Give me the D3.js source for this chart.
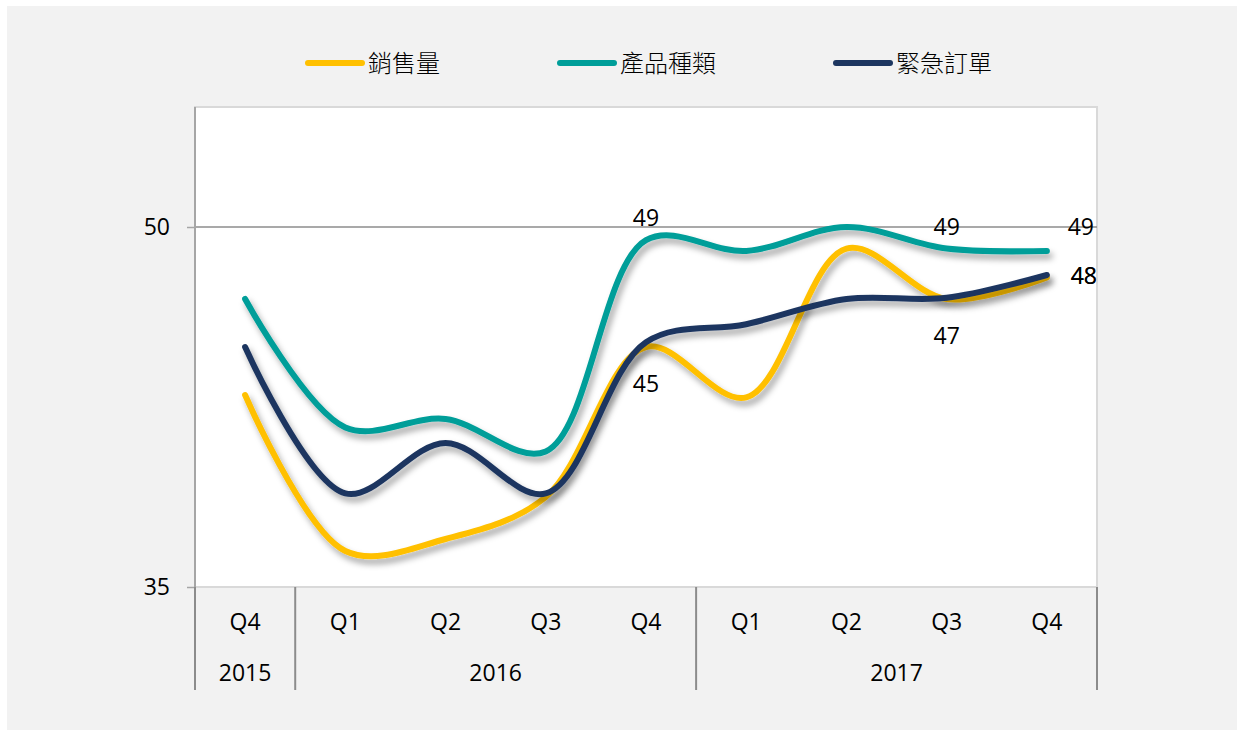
<!DOCTYPE html>
<html lang="zh-Hant">
	<head>
		<meta charset="utf-8">
		<title>D3: 季度趨勢</title>
		<script type="text/javascript" src="https://cdn.jsdelivr.net/npm/d3@7"></script>
		<style>
			body { margin: 0; background: #fff; }
			text { font-family: "Open Sans", "Noto Sans", sans-serif; }
		</style>
	</head>
	<body>
		<script type="text/javascript">
			// Width and height
			var w = 1244;
			var h = 730;

			// Data
			var quarters = ["Q4", "Q1", "Q2", "Q3", "Q4", "Q1", "Q2", "Q3", "Q4"];
			var years = [
				{ label: "2015", from: 0, to: 0 },
				{ label: "2016", from: 1, to: 4 },
				{ label: "2017", from: 5, to: 8 }
			];
			var seriesNames = ["銷售量", "產品種類", "緊急訂單"];
			var sales    = [43.0, 36.5, 37.0, 38.75, 45.0, 42.9, 49.1, 47.0, 47.9];
			var products = [47.0, 41.65, 42.0, 40.65, 49.45, 49.0, 50.0, 49.1, 49.0];
			var urgent   = [45.0, 38.9, 41.0, 38.9, 45.2, 45.95, 47.0, 47.05, 48.0];
			var yTicks = [35, 50];
			// which points get a value label, and where
			var labelsAt = [
				[{ i: 4, pos: "below" }, { i: 7, pos: "below" }, { i: 8, pos: "right" }],
				[{ i: 4, pos: "above" }, { i: 7, pos: "above" }, { i: 8, pos: "aboveRight" }],
				[{ i: 8, pos: "right" }]
			];

			var colors = ["#FFC000", "#009E99", "#1D3660"];
			var dataset = [sales, products, urgent];

			var svg = d3.select("body")
				.append("svg")
				.attr("width", w)
				.attr("height", h);

			// shadow under the lines
			var defs = svg.append("defs");
			defs.append("filter")
				.attr("id", "shadow")
				.attr("x", "-10%").attr("y", "-10%")
				.attr("width", "120%").attr("height", "130%")
				.append("feDropShadow")
				.attr("dx", 3)
				.attr("dy", 5)
				.attr("stdDeviation", 3)
				.attr("flood-color", "#000")
				.attr("flood-opacity", 0.35);

			// grey panel
			svg.append("rect")
				.attr("x", 7).attr("y", 6)
				.attr("width", w - 14).attr("height", h - 6)
				.attr("fill", "#f2f2f2");

			var pLeft = 195, pRight = 1097, pTop = 107, pBottom = 587;

			var xScale = d3.scaleBand()
				.domain(d3.range(quarters.length))
				.range([pLeft, pRight]);

			var yScale = d3.scaleLinear()
				.domain([35, 55])
				.range([pBottom, pTop]);

			// plot area
			svg.append("rect")
				.attr("x", pLeft).attr("y", pTop)
				.attr("width", pRight - pLeft).attr("height", pBottom - pTop)
				.attr("fill", "#fff")
				.attr("stroke", "#d9d9d9")
				.attr("stroke-width", 2);

			// gridline at 50
			svg.append("line")
				.attr("x1", pLeft).attr("x2", pRight)
				.attr("y1", yScale(50)).attr("y2", yScale(50))
				.attr("stroke", "#8c8c8c")
				.attr("stroke-width", 1.5);

			// y axis
			var yAxis = d3.axisLeft(yScale)
				.tickValues(yTicks)
				.tickSize(8)
				.tickPadding(17);
			var yg = svg.append("g")
				.attr("transform", "translate(" + pLeft + ",0)")
				.call(yAxis);
			yg.select(".domain").attr("stroke", "#a6a6a6").attr("stroke-width", 2)
				.attr("d", "M0," + pTop + "V" + (pBottom + 103));
			yg.selectAll(".tick line").attr("stroke", "#a6a6a6").attr("stroke-width", 1.5);
			yg.selectAll(".tick text")
				.style("font-size", "23px")
				.attr("fill", "#000");

			// x axis: quarter row
			var xg = svg.append("g");
			xg.selectAll("text.q")
				.data(quarters)
				.enter()
				.append("text")
				.attr("class", "q")
				.attr("x", function(d, i) { return xScale(i) + xScale.bandwidth() / 2; })
				.attr("y", 630)
				.attr("text-anchor", "middle")
				.style("font-size", "23px")
				.text(function(d) { return d; });

			// year row
			xg.selectAll("text.yr")
				.data(years)
				.enter()
				.append("text")
				.attr("class", "yr")
				.attr("x", function(d) {
					return (xScale(d.from) + xScale(d.to) + xScale.bandwidth()) / 2;
				})
				.attr("y", 681)
				.attr("text-anchor", "middle")
				.style("font-size", "23px")
				.text(function(d) { return d.label; });

			// year separators
			var seps = [0, 1, 5];
			xg.selectAll("line.sep")
				.data(seps)
				.enter()
				.append("line")
				.attr("x1", function(d) { return xScale(d); })
				.attr("x2", function(d) { return xScale(d); })
				.attr("y1", pBottom)
				.attr("y2", pBottom + 103)
				.attr("stroke", "#8c8c8c")
				.attr("stroke-width", 2);
			xg.append("line")
				.attr("x1", pRight).attr("x2", pRight)
				.attr("y1", pBottom).attr("y2", pBottom + 103)
				.attr("stroke", "#8c8c8c")
				.attr("stroke-width", 2);

			// lines
			var line = d3.line()
				.x(function(d, i) { return xScale(i) + xScale.bandwidth() / 2; })
				.y(function(d) { return yScale(d); })
				.curve(d3.curveCatmullRom.alpha(0.5));

			svg.selectAll("path.series")
				.data(dataset)
				.enter()
				.append("path")
				.attr("class", "series")
				.attr("d", line)
				.attr("fill", "none")
				.attr("stroke", function(d, i) { return colors[i]; })
				.attr("stroke-width", 6)
				.attr("stroke-linecap", "round")
				.attr("filter", "url(#shadow)");

			// value labels
			var fmt = d3.format(".0f");
			labelsAt.forEach(function(list, s) {
				svg.selectAll("text.lab" + s)
					.data(list)
					.enter()
					.append("text")
					.attr("class", "lab" + s)
					.attr("x", function(d) {
						var cx = xScale(d.i) + xScale.bandwidth() / 2;
						if (d.pos == "right") return cx + 37;
						if (d.pos == "aboveRight") return cx + 34;
						return cx;
					})
					.attr("y", function(d) {
						var v = dataset[s][d.i];
						if (d.pos == "above") return yScale(v) - 14;
						if (d.pos == "aboveRight") return yScale(v) - 16;
						if (d.pos == "below") return yScale(v) + 45;
						// right-hand labels sit on the rounded value so the two 48s coincide
						return yScale(+fmt(v)) + 9;
					})
					.attr("text-anchor", "middle")
					.style("font-size", "23px")
					.attr("fill", "#000")
					.text(function(d) { return fmt(dataset[s][d.i]); });
			});

			// legend
			var legendX = [308, 560, 836];
			var legend = svg.selectAll("g.legend")
				.data(seriesNames)
				.enter()
				.append("g")
				.attr("class", "legend")
				.attr("transform", function(d, i) { return "translate(" + legendX[i] + ",63)"; });
			legend.append("line")
				.attr("x1", 0).attr("x2", 54)
				.attr("stroke", function(d, i) { return colors[i]; })
				.attr("stroke-width", 6)
				.attr("stroke-linecap", "round");
			legend.append("text")
				.attr("x", 60)
				.attr("y", 9)
				.style("font-family", "'Noto Sans CJK TC', sans-serif")
				.style("font-weight", 300)
				.style("font-size", "24px")
				.attr("fill", "#000")
				.text(function(d) { return d; });
		</script>
	</body>
</html>
